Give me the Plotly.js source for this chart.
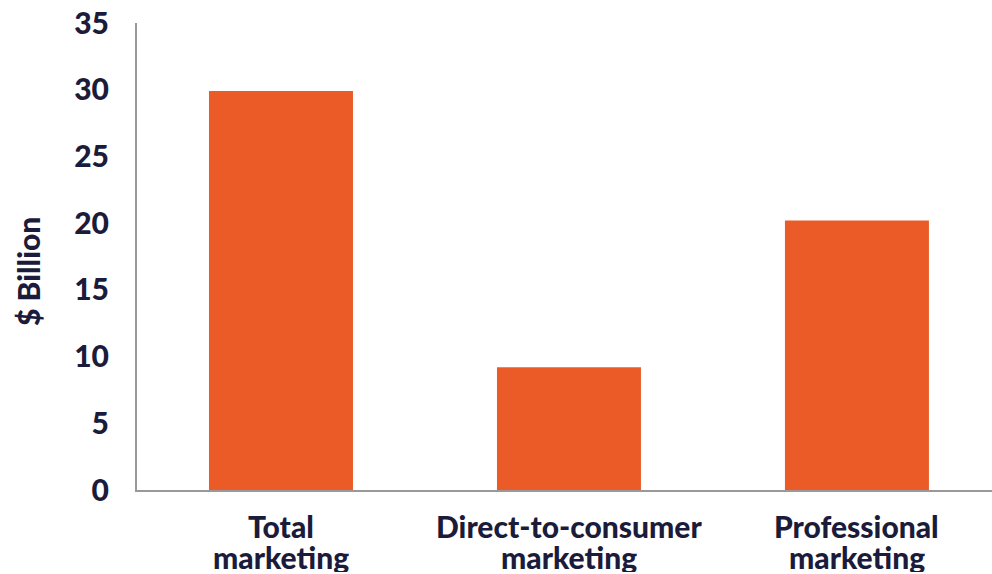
<!DOCTYPE html>
<html>
<head>
<meta charset="utf-8">
<script src="https://cdn.plot.ly/plotly-3.0.1.min.js"></script>
<style>html,body{margin:0;padding:0;background:#fff;}#chart{width:992px;height:574px;}</style>
</head>
<body>
<div id="chart"></div>
<script>
const categories = ["Total marketing", "Direct-to-consumer marketing", "Professional marketing"];
const labelLine1 = ["Total", "Direct-to-consumer", "Professional"];
const labelLine2 = ["marketing", "marketing", "marketing"];
const values = [29.9, 9.2, 20.2];
const yTicks = [0, 5, 10, 15, 20, 25, 30, 35];

const textColor = "#1b1b3b";
const fontFamily = "Lato, 'Open Sans', sans-serif";
const fontSize = 30;

const trace = {
  type: "bar",
  x: categories,
  y: values,
  marker: { color: "#ea5b28" },
  hoverinfo: "skip"
};

const labelAnnotations = [];
categories.forEach(function (c, i) {
  labelAnnotations.push({
    text: labelLine1[i], xref: "x", yref: "paper", x: c, y: 0,
    xanchor: "center", yanchor: "middle", yshift: -36, height: 30, valign: "middle",
    showarrow: false,
    font: { size: fontSize, family: fontFamily, color: textColor, weight: 900 }
  });
  labelAnnotations.push({
    text: labelLine2[i], xref: "x", yref: "paper", x: c, y: 0,
    xanchor: "center", yanchor: "middle", yshift: -67, height: 30, valign: "middle",
    showarrow: false,
    font: { size: fontSize, family: fontFamily, color: textColor, weight: 900 }
  });
});

const layout = {
  width: 992,
  height: 574,
  margin: { l: 137, r: 0, t: 23, b: 84 },
  paper_bgcolor: "#fff",
  plot_bgcolor: "#fff",
  bargap: 0.5,
  showlegend: false,
  font: { family: fontFamily, color: textColor },
  xaxis: {
    range: [-0.5, 2.469],
    showline: true,
    linecolor: "#999999",
    linewidth: 2,
    ticks: "",
    showticklabels: false,
    showgrid: false,
    zeroline: false,
    fixedrange: true
  },
  yaxis: {
    range: [0, 35],
    tickvals: yTicks,
    ticktext: yTicks.map(String),
    showline: true,
    linecolor: "#999999",
    linewidth: 2,
    ticks: "",
    ticklabelstandoff: 20,
    showgrid: false,
    zeroline: false,
    tickfont: { size: fontSize, family: fontFamily, color: textColor, weight: 900 },
    fixedrange: true
  },
  annotations: labelAnnotations.concat([{
    text: "$ Billion",
    xref: "paper", yref: "paper",
    x: -137/855, y: (490-272)/467,
    xanchor: "left", yanchor: "middle",
    xshift: 8,
    textangle: -90,
    showarrow: false,
    font: { size: fontSize, family: fontFamily, color: textColor, weight: 900 }
  }])
};

Plotly.newPlot("chart", [trace], layout, { displayModeBar: false, staticPlot: true });
</script>
</body>
</html>
